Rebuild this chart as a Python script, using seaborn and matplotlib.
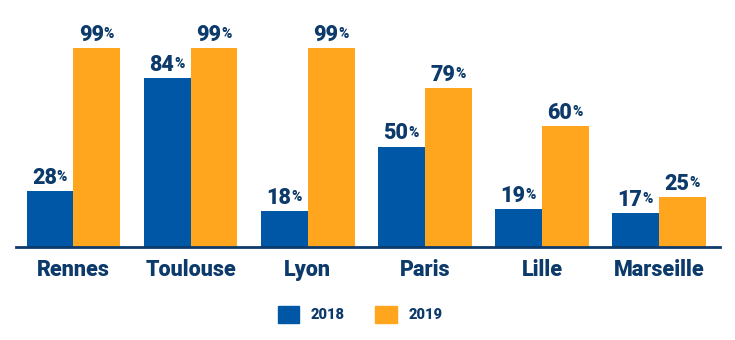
import matplotlib
matplotlib.use("Agg")
import matplotlib.pyplot as plt
import seaborn as sns
import pandas as pd

cities = ["Rennes", "Toulouse", "Lyon", "Paris", "Lille", "Marseille"]
years = ["2018", "2019"]
values_2018 = [28, 84, 18, 50, 19, 17]
values_2019 = [99, 99, 99, 79, 60, 25]

BLUE = "#0057A6"
ORANGE = "#FFA51E"
NAVY = "#0C3A6B"

df = pd.DataFrame({
    "city": cities * 2,
    "year": [years[0]] * len(cities) + [years[1]] * len(cities),
    "value": values_2018 + values_2019,
})

sns.set_theme(style="white")
plt.rcParams["font.family"] = ["Roboto", "DejaVu Sans"]

fig = plt.figure(figsize=(7.35, 3.4), dpi=100)
ax = fig.add_axes([16 / 735, 1 - 247 / 340, (720 - 16) / 735, (247 - 20) / 340])

sns.barplot(data=df, x="city", y="value", hue="year", order=cities,
            hue_order=years, palette=[BLUE, ORANGE], width=0.8,
            saturation=1, linewidth=0, ax=ax, legend=False)

ax.set_xlim(-0.49, 5.52)
ax.set_ylim(0, 113)
ax.set_xlabel("")
ax.set_ylabel("")
ax.set_yticks([])
for s in ["top", "right", "left"]:
    ax.spines[s].set_visible(False)
ax.spines["bottom"].set_color(NAVY)
ax.spines["bottom"].set_linewidth(2)
ax.tick_params(axis="x", length=0, pad=8.5)
for lbl in ax.get_xticklabels():
    lbl.set_fontsize(15.5)
    lbl.set_fontweight("black")
    lbl.set_color(NAVY)

# Value labels: heavy number with a small percent sign at its upper right
for container in ax.containers:
    for bar in container:
        h = bar.get_height()
        cx = bar.get_x() + bar.get_width() / 2
        num = ax.annotate(f"{h:.0f}", xy=(cx, h), xytext=(-4, 1.5),
                          textcoords="offset points", ha="center", va="bottom",
                          fontsize=15.5, fontweight="black", color=NAVY)
        ax.annotate("%", xy=(1, 0.86), xycoords=num, xytext=(0, 0),
                    textcoords="offset points", ha="left", va="top",
                    fontsize=10, fontweight="black", color=NAVY)

handles = [plt.Rectangle((0, 0), 1, 1, color=c) for c in (BLUE, ORANGE)]
leg = fig.legend(handles, years, loc="center", bbox_to_anchor=(0.49, 0.075),
                 ncol=2, frameon=False, handlelength=1.45, handleheight=1.45,
                 handletextpad=0.8, columnspacing=2.1,
                 prop={"weight": "black", "size": 10.5})
for t in leg.get_texts():
    t.set_color(NAVY)

fig.savefig("out.png", dpi=100)
